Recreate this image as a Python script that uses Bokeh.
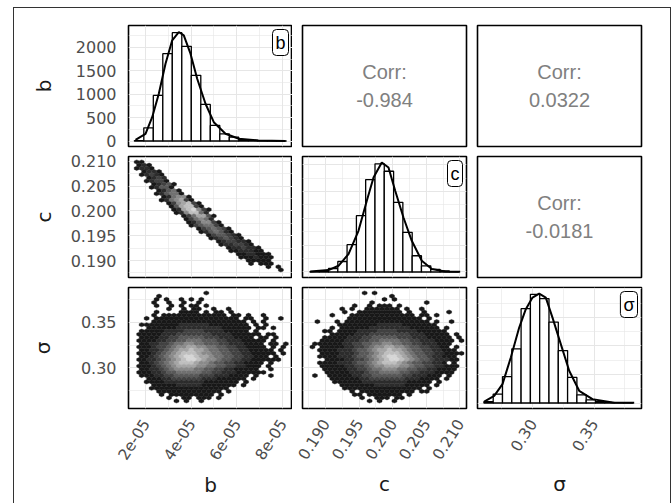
import math
from bokeh.plotting import figure
from bokeh.layouts import gridplot
from bokeh.models import FixedTicker, Range1d, Label
from bokeh.core.properties import value
from bokeh.embed import file_html
from bokeh.resources import INLINE

# ---------------- data ----------------
VARS = ["b", "c", "σ"]

# panel limits of each variable (ggplot limits incl. expansion)
b_lim = (1.2555e-5, 8.438e-5)
c_lim = (0.18657, 0.2110)
s_lim = (0.2551, 0.3886)

b_ticks = [2e-5, 4e-5, 6e-5, 8e-5]
b_tick_labels = ["2e-05", "4e-05", "6e-05", "8e-05"]
b_minor = [3e-5, 5e-5, 7e-5]
c_ticks = [0.190, 0.195, 0.200, 0.205, 0.210]
c_tick_labels = ["0.190", "0.195", "0.200", "0.205", "0.210"]
c_minor = [0.1875, 0.1925, 0.1975, 0.2025, 0.2075]
s_ticks = [0.30, 0.35]
s_tick_labels = ["0.30", "0.35"]
s_minor = [0.275, 0.325, 0.375]

count_ticks = [0, 500, 1000, 1500, 2000]
count_tick_labels = ["0", "500", "1000", "1500", "2000"]
count_minor = [250, 750, 1250, 1750, 2250]

# histogram count limits of each diagonal panel
b_count_lim = (-117.5, 2467.5)
c_count_lim = (-102.6, 2154.0)
s_count_lim = (-96.0, 2023.0)

# histograms (bin edges and counts)
b_edges = [1.510e-5, 1.926e-5, 2.342e-5, 2.758e-5, 3.174e-5, 3.590e-5, 4.006e-5, 4.422e-5,
           4.838e-5, 5.254e-5, 5.670e-5, 6.086e-5, 6.502e-5, 6.918e-5, 7.334e-5, 7.750e-5, 8.166e-5]
b_counts = [5, 282, 974, 1866, 2315, 2022, 1402, 781, 332, 154, 81, 30, 12, 5, 3, 1]

c_edges = [0.18767, 0.18906, 0.19044, 0.19183, 0.19321, 0.19460, 0.19598, 0.19737, 0.19875,
           0.20014, 0.20152, 0.20291, 0.20429, 0.20568, 0.20706, 0.20845, 0.20983]
c_counts = [5, 22, 65, 196, 509, 1051, 1724, 2018, 1879, 1300, 739, 303, 116, 50, 19, 5]

s_edges = [0.26031, 0.26788, 0.27545, 0.28302, 0.29059, 0.29816, 0.30573, 0.31330, 0.32087,
           0.32844, 0.33601, 0.34358, 0.35115, 0.35872, 0.36629, 0.37386, 0.38143]
s_counts = [26, 157, 461, 949, 1653, 1904, 1829, 1417, 919, 449, 144, 56, 26, 12, 5, 2]

# density curves (scaled to counts)
b_dens_x = [1.562e-5, 2.000e-5, 2.293e-5, 2.583e-5, 2.876e-5, 3.170e-5, 3.458e-5, 3.677e-5,
            3.971e-5, 4.264e-5, 4.628e-5, 4.991e-5, 5.504e-5, 6.086e-5, 6.949e-5, 8.132e-5]
b_dens_y = [26, 154, 509, 1010, 1652, 2151, 2328, 2258, 1866, 1331, 796, 402, 154, 47, 11, 0]

c_dens_x = [0.18772, 0.19044, 0.19193, 0.19342, 0.19491, 0.19615, 0.19715, 0.19838,
            0.19938, 0.20038, 0.20161, 0.20285, 0.20434, 0.20583, 0.20783, 0.21006]
c_dens_y = [9, 35, 116, 334, 768, 1328, 1762, 2042, 1949, 1514, 1016, 582, 209, 54, 9, 4]

s_dens_x = [0.26055, 0.26869, 0.27545, 0.28221, 0.28904, 0.29442, 0.29987, 0.30532,
            0.31070, 0.31615, 0.32291, 0.32974, 0.33788, 0.34871, 0.36499, 0.38265]
s_dens_y = [26, 126, 331, 796, 1321, 1643, 1846, 1916, 1846, 1496, 1031, 564, 214, 68, 9, 3]

# correlations
corr_values = {(0, 1): "-0.984", (0, 2): "0.0322", (1, 2): "-0.0181"}

# hexbin grids: bin origin (first column centre, top row centre) and bin widths
b_hex_x0, b_hex_w = 1.6146e-5, 2.177e-6
c_hex_x0, c_hex_w = 0.18768, 0.0007403
c_hex_top, c_hex_h = 0.20989, 0.0007403
s_hex_top, s_hex_h = 0.38253, 0.004045

# hex cell levels (1 = fewest points ... 9 = most), rows from top, '.' = empty
hex_cb = [
    "11",
    "121",
    "1221",
    ".1221",
    ".12321",
    "..1232",
    "..12331",
    "...12341",
    "...12441",
    "....12451",
    "....124551",
    ".....125661",
    ".....1256731",
    "......1367831",
    ".......1478831",
    ".......12789631",
    "........1268852",
    ".........1357741",
    "..........135652",
    "..........1246631",
    "...........1345531",
    "............1345431",
    ".............1245421",
    "..............1344321",
    "...............1234321",
    "................1233221",
    ".................1223321",
    "..................1223221",
    "...................1122211",
    "....................1122111",
    ".....................1112111",
    "......................11111",
    ".......................1.111",
    "..........................1.1",
    ".............................1",
]

hex_sb = [
    "..............1",
    "....1",
    "....1.1..1.1.1",
    "...1..1..1..1",
    "....1..1.1.11.1",
    "......1..1.11..1..1",
    "....1....1111.1.11.1",
    "...1.1111111111111.11.1..1",
    "..1.11111111111111111.11..1..1",
    "...1111111111111111111.1.1",
    ".1111111122222211111111.1.1",
    "..111111222222222111111.11.1",
    ".1111122223333222211111.1",
    "1111122233333332222111111.11",
    ".11112233444443332221111.11.1",
    "11112233445554443322211111.1",
    ".1122334556655444332221111.11.1",
    "11123345667766554433221111.1.1",
    ".112234567787765544332211111.1",
    "1112345678887665544332211111.1",
    ".11234567899877655443322111.1",
    "11223456789987665443322111111",
    ".1123456788876654433221111.1",
    "1112345677776655443322111.1",
    ".112234566665544332211111..1",
    "11122344555554433222111111",
    ".1112233444443332221111.1..1",
    "..11122333333222111111.1",
    "..1111222222221111111.1",
    "...11111222221111111.1",
    "...1111111111111111",
    "....1111111111111.1",
    ".....1.111111111.1",
    "......1..11.111.1",
    "........1.1..1",
]

hex_sc = [
    "...........1.1",
    "................1",
    "...............1.1",
    "............1..........1",
    ".........1..1.111.1",
    "......1.1..1111111.1..1",
    ".......1..111111111.1..1....1",
    "....1...1111111111111.11.1",
    "........111111111111111.1",
    ".1...1.11111111111111111.1..1",
    "......11111111222221111111",
    "....1.11111122222222111111.1",
    "...11.1111222233332222111111",
    "....111112223333333322211111.1",
    "...11111222334444433322211111.1",
    "..111112223344555544332221111.1",
    ".1111112233445566554433222111",
    "1.11111223345667766544332211.1",
    "..1111222344567787765443322111",
    "..11112223445678887654433221111",
    "..1111222344567899876544322111",
    "...111122334567899876544322211",
    "..11112223445678887654433221.1",
    "..1111122334566777665443322111",
    "...111112233455666554433221111",
    "...11111222344555544332221111",
    ".1..11111223344444433222111.1",
    "....1111112233333332221111.1",
    ".....11111122222222211111.1",
    "......111111122222211111.1",
    ".......1111111111111111.1",
    "........1.11111111111.11",
    ".........11.1111111.1",
    "..........1..111.11",
    "............1.1..1",
]

# ---------------- styling ----------------
GRAYS = ["#181818", "#2c2c2c", "#414141", "#585858", "#707070",
         "#8a8a8a", "#a5a5a5", "#bfbfbf", "#d6d6d6"]
TICK_FONT = "DejaVu Sans"
GRID_COL = "#e6e6e6"

W = [278, 177, 201]
H = [143, 131, 221]
MBL = [114, 10, 8]
MBR = [0, 3, 29]
MBT = [17, 5, 5]
MBB = [5, 5, 95]
Y_TITLE_STANDOFF = [17, 12, 23]
X_TITLE_STANDOFF = [5, 5, 13]

lims = [b_lim, c_lim, s_lim]
ticks = [b_ticks, c_ticks, s_ticks]
tick_labels = [b_tick_labels, c_tick_labels, s_tick_labels]
minors = [b_minor, c_minor, s_minor]
count_lims = [b_count_lim, c_count_lim, s_count_lim]
hists = [(b_edges, b_counts), (c_edges, c_counts), (s_edges, s_counts)]
dens = [(b_dens_x, b_dens_y), (c_dens_x, c_dens_y), (s_dens_x, s_dens_y)]


def style_axis(ax, tks, labels, size):
    ax.ticker = FixedTicker(ticks=tks, minor_ticks=[])
    ax.major_label_overrides = dict(zip(tks, labels))
    ax.axis_line_color = None
    ax.major_tick_line_color = None
    ax.major_tick_out = 0
    ax.major_tick_in = 0
    ax.minor_tick_line_color = None
    ax.major_label_text_font = TICK_FONT
    ax.major_label_text_font_size = size
    ax.major_label_text_color = "#4d4d4d"
    ax.axis_label_text_font = TICK_FONT
    ax.axis_label_text_font_size = "20px"
    ax.axis_label_text_font_style = "normal"
    ax.axis_label_text_color = "#1a1a1a"


def add_hex(p, rows, x0, wx, ytop, wy):
    dy = wy * math.sqrt(3) / 2
    ry = wy / math.sqrt(3)
    xs, ys, cols = [], [], []
    for i, row in enumerate(rows):
        yc = ytop - i * dy
        off = 0.5 * wx if i % 2 else 0.0
        for j, ch in enumerate(row):
            if ch == ".":
                continue
            xc = x0 + j * wx + off
            xs.append([xc, xc + wx / 2, xc + wx / 2, xc, xc - wx / 2, xc - wx / 2])
            ys.append([yc + ry, yc + ry / 2, yc - ry / 2, yc - ry, yc - ry / 2, yc + ry / 2])
            cols.append(GRAYS[int(ch) - 1])
    p.patches(xs, ys, fill_color=cols, line_color=cols, line_width=0.4)


hex_specs = {
    (1, 0): (hex_cb, b_hex_x0, b_hex_w, c_hex_top, c_hex_h),
    (2, 0): (hex_sb, b_hex_x0, b_hex_w, s_hex_top, s_hex_h),
    (2, 1): (hex_sc, c_hex_x0, c_hex_w, s_hex_top, s_hex_h),
}

rows_of_figs = []
for r in range(3):
    row_figs = []
    for c in range(3):
        xr = lims[c]
        yr = count_lims[r] if r == c else lims[r]
        p = figure(width=W[c], height=H[r],
                   x_range=Range1d(*xr), y_range=Range1d(*yr),
                   x_axis_location="below" if r == 2 else None,
                   y_axis_location="left" if c == 0 else None,
                   output_backend="svg", toolbar_location=None,
                   min_border_left=MBL[c], min_border_right=MBR[c],
                   min_border_top=MBT[r], min_border_bottom=MBB[r])
        p.outline_line_color = "black"
        p.outline_line_width = 1.6
        p.background_fill_color = "white"
        p.border_fill_color = "white"

        if r == 2:
            ax = p.xaxis[0]
            style_axis(ax, ticks[c], tick_labels[c], "15.5px")
            ax.major_label_orientation = 1.0
            ax.major_label_standoff = 12
            ax.axis_label = VARS[c]
            ax.axis_label_standoff = X_TITLE_STANDOFF[c]
        if c == 0:
            ay = p.yaxis[0]
            if r == 0:
                style_axis(ay, count_ticks, count_tick_labels, "16px")
            else:
                style_axis(ay, ticks[r], tick_labels[r], "16px")
            ay.major_label_standoff = 12
            ay.axis_label = VARS[r]
            ay.axis_label_standoff = Y_TITLE_STANDOFF[r]

        if c > r:
            # upper: correlation text, no grid
            p.xgrid.visible = False
            p.ygrid.visible = False
            xm = (xr[0] + xr[1]) / 2
            ym = (yr[0] + yr[1]) / 2
            for txt, off in (("Corr:", -14), (corr_values[(r, c)], 14)):
                p.text(x=[xm], y=[ym], text=[txt], y_offset=off,
                       text_align="center", text_baseline="middle",
                       text_color="#808080", text_font_size="20px",
                       text_font=value("Liberation Sans"))
        else:
            p.xgrid.ticker = FixedTicker(ticks=ticks[c], minor_ticks=minors[c])
            if r == c:
                p.ygrid.ticker = FixedTicker(ticks=count_ticks, minor_ticks=count_minor)
            else:
                p.ygrid.ticker = FixedTicker(ticks=ticks[r], minor_ticks=minors[r])
            for g in (p.xgrid[0], p.ygrid[0]):
                g.grid_line_color = GRID_COL
                g.grid_line_width = 1
                g.minor_grid_line_color = GRID_COL
                g.minor_grid_line_width = 0.6

        if r == c:
            edges, counts = hists[r]
            p.quad(left=edges[:-1], right=edges[1:], bottom=0, top=counts,
                   fill_color="white", line_color="black", line_width=1.3)
            dx, dy = dens[r]
            p.line(dx, dy, line_color="black", line_width=2)
            lab = Label(x=xr[1], y=yr[1], text=VARS[r], x_offset=-4, y_offset=-4,
                        text_align="right", text_baseline="top",
                        text_font="Liberation Sans", text_font_size="18px",
                        text_color="black", background_fill_color="white",
                        border_line_color="black", border_line_width=1,
                        padding=3, border_radius=4)
            p.add_layout(lab)
        elif r > c:
            spec = hex_specs[(r, c)]
            add_hex(p, *spec)
        row_figs.append(p)
    rows_of_figs.append(row_figs)

gp = gridplot(rows_of_figs, toolbar_location=None)
gp.styles = {"margin-left": "13px", "margin-top": "7px",
             "border": "1px solid #333333", "background-color": "white"}

open("out.html", "w").write(file_html(gp, INLINE))
